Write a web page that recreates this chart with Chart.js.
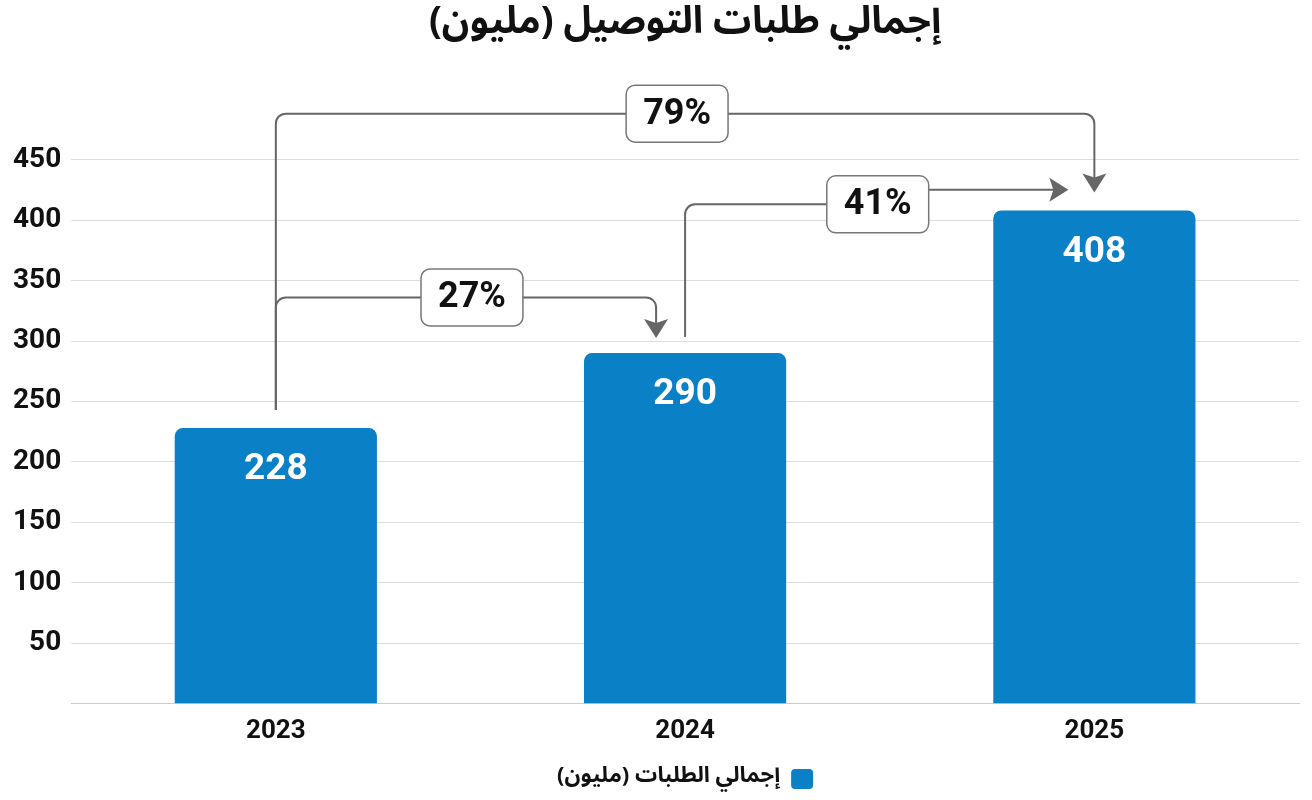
<!DOCTYPE html>
<html lang="ar">
<head>
<meta charset="utf-8">
<title>إجمالي طلبات التوصيل (مليون)</title>
<script src="https://cdn.jsdelivr.net/npm/chart.js@4.4.1/dist/chart.umd.min.js"></script>
<style>
  html, body { margin: 0; padding: 0; background: #fff; }
  #wrap { width: 1312px; height: 800px; }
</style>
</head>
<body>
<div id="wrap"><canvas id="ordersChart"></canvas></div>
<script>
const years = ["2023", "2024", "2025"];
const orders = [228, 290, 408];
const yTickValues = [0, 50, 100, 150, 200, 250, 300, 350, 400, 450];
// pairs of year indexes compared in the brackets
const comparisons = [[0, 1], [1, 2], [0, 2]];

const seriesName = "إجمالي الطلبات (مليون)";
const chartTitle = "إجمالي طلبات التوصيل (مليون)";

const barColor = "#0a80c6";
const arabicFont = '"Noto Sans Arabic", "DejaVu Sans", sans-serif';
const numFont = 'Roboto, "Noto Sans", sans-serif';

function growth(a, b) {
  return Math.round((orders[b] - orders[a]) / orders[a] * 100) + "%";
}

// bracket layout: levels in axis units, gaps and shifts in pixels
const bracketLayout = [
  { pair: comparisons[0], level: 336, startGap: 18, endGap: 15, endShift: -29, boxShift: 6, type: "down" },
  { pair: comparisons[1], level: 413, levelRight: 425, startGap: 16, endShift: -26, boxShift: 1, type: "right" },
  { pair: comparisons[2], level: 488, startGap: 18, endGap: 18, endShift: 0, boxShift: -8, type: "down" }
];

function roundRect(ctx, x, y, w, h, r) {
  ctx.beginPath();
  ctx.moveTo(x + r, y);
  ctx.arcTo(x + w, y, x + w, y + h, r);
  ctx.arcTo(x + w, y + h, x, y + h, r);
  ctx.arcTo(x, y + h, x, y, r);
  ctx.arcTo(x, y, x + w, y, r);
  ctx.closePath();
}

function arrowDown(ctx, x, tip) {
  ctx.beginPath();
  ctx.moveTo(x, tip);
  ctx.lineTo(x - 12, tip - 19);
  ctx.lineTo(x, tip - 15);
  ctx.lineTo(x + 12, tip - 19);
  ctx.closePath();
  ctx.fill();
}

function arrowRight(ctx, tip, y) {
  ctx.beginPath();
  ctx.moveTo(tip, y);
  ctx.lineTo(tip - 19, y - 12);
  ctx.lineTo(tip - 15, y);
  ctx.lineTo(tip - 19, y + 12);
  ctx.closePath();
  ctx.fill();
}

const barLabels = {
  id: "barLabels",
  afterDatasetsDraw(chart) {
    const { ctx } = chart;
    const meta = chart.getDatasetMeta(0);
    ctx.save();
    ctx.fillStyle = "#ffffff";
    ctx.font = "bold 37px " + numFont;
    ctx.textAlign = "center";
    ctx.textBaseline = "middle";
    meta.data.forEach((bar, i) => {
      ctx.fillText(orders[i], bar.x, bar.y + 42);
    });
    ctx.restore();
  }
};

const brackets = {
  id: "brackets",
  afterDatasetsDraw(chart) {
    const { ctx, scales: { x, y } } = chart;
    const r = 10;
    ctx.save();

    bracketLayout.forEach(b => {
      const [from, to] = b.pair;
      const x0 = x.getPixelForValue(from);
      const y0 = y.getPixelForValue(orders[from]) - b.startGap;
      const yl = y.getPixelForValue(b.level);
      const xEnd = x.getPixelForValue(to) + b.endShift;
      const midX = (x0 + xEnd) / 2 + b.boxShift;

      ctx.strokeStyle = "#666666";
      ctx.fillStyle = "#666666";
      ctx.lineWidth = 2;
      ctx.beginPath();
      ctx.moveTo(x0, y0);
      ctx.lineTo(x0, yl + r);
      ctx.arcTo(x0, yl, x0 + r, yl, r);
      if (b.type === "down") {
        const tip = y.getPixelForValue(orders[to]) - b.endGap;
        ctx.lineTo(xEnd - r, yl);
        ctx.arcTo(xEnd, yl, xEnd, yl + r, r);
        ctx.lineTo(xEnd, tip - 14);
        ctx.stroke();
        arrowDown(ctx, xEnd, tip);
      } else {
        const yr = y.getPixelForValue(b.levelRight);
        ctx.lineTo(midX, yl);
        ctx.moveTo(midX, yr);
        ctx.lineTo(xEnd - 14, yr);
        ctx.stroke();
        arrowRight(ctx, xEnd, yr);
      }

      // label box
      const text = growth(from, to);
      ctx.font = "bold 36px " + numFont;
      const w = ctx.measureText(text).width + 34;
      const h = 57;
      roundRect(ctx, midX - w / 2, yl - h / 2, w, h, 9);
      ctx.fillStyle = "#ffffff";
      ctx.fill();
      ctx.lineWidth = 1.5;
      ctx.strokeStyle = "#777777";
      ctx.stroke();
      ctx.fillStyle = "#111111";
      ctx.textAlign = "center";
      ctx.textBaseline = "middle";
      ctx.fillText(text, midX, yl + 1);
    });
    ctx.restore();
  }
};

const chart = new Chart(document.getElementById("ordersChart"), {
  type: "bar",
  data: {
    labels: years,
    datasets: [
      {
        label: seriesName,
        data: orders,
        backgroundColor: barColor,
        borderRadius: 8,
        borderSkipped: "bottom",
        categoryPercentage: 1,
        barPercentage: 0.494
      }
    ]
  },
  options: {
    responsive: true,
    maintainAspectRatio: false,
    animation: false,
    layout: {
      padding: { left: 3, right: 13, top: 0, bottom: 0 }
    },
    scales: {
      x: {
        grid: { display: false },
        border: { color: "#cccccc" },
        afterFit: axis => {
          axis.height += 7;
        },
        ticks: {
          padding: 4,
          color: "#111111",
          font: { family: numFont, size: 26, weight: "bold" }
        }
      },
      y: {
        min: 0,
        max: 450,
        afterBuildTicks: axis => {
          axis.ticks = yTickValues.map(v => ({ value: v }));
        },
        grid: { color: "#dddddd", drawTicks: false },
        border: { display: false },
        ticks: {
          padding: 10,
          color: "#111111",
          font: { family: numFont, size: 28, weight: "bold" },
          callback: v => (v === 0 ? "" : v)
        }
      }
    },
    plugins: {
      title: {
        display: true,
        fullSize: false,
        text: chartTitle,
        color: "#111111",
        font: { family: arabicFont, size: 38, weight: "bold" },
        padding: { top: 4, bottom: 110 }
      },
      legend: {
        position: "bottom",
        fullSize: false,
        rtl: true,
        textDirection: "rtl",
        labels: {
          color: "#111111",
          boxWidth: 22,
          boxHeight: 20,
          useBorderRadius: true,
          borderRadius: 4,
          padding: 10,
          font: { family: arabicFont, size: 22, weight: "bold" }
        }
      },
      tooltip: { enabled: false }
    }
  },
  plugins: [barLabels, brackets]
});
</script>
</body>
</html>
